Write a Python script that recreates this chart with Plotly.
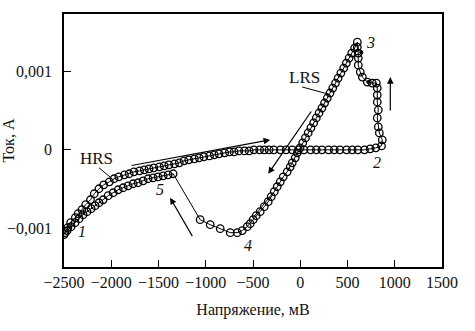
import plotly.graph_objects as go

# ---- measured I-V loop (voltage in mV, current in A), in drawing order ----
# branch 1 -> 2 (HRS, forward sweep)
v_hrs_fwd = [-2490, -2460, -2430, -2380, -2350, -2310, -2270, -2220, -2180, -2130,
             -2080, -2020, -1970, -1920, -1860, -1810, -1760, -1700, -1650, -1600,
             -1550, -1490, -1440, -1390, -1330, -1280, -1230, -1180, -1120, -1070,
             -1020, -960, -910, -860, -800, -750, -700, -650, -590, -540,
             -490, -430, -380, -330, -280, -210, -150, -85, -20, 40,
             110, 170, 230, 300, 360, 420, 490, 550, 610, 680,
             740, 800, 860]
i_hrs_fwd = [-1.060e-3, -0.996e-3, -0.932e-3, -0.868e-3, -0.817e-3, -0.766e-3, -0.702e-3, -0.639e-3, -0.562e-3, -0.498e-3,
             -0.447e-3, -0.409e-3, -0.370e-3, -0.345e-3, -0.319e-3, -0.306e-3, -0.281e-3, -0.268e-3, -0.255e-3, -0.243e-3,
             -0.230e-3, -0.217e-3, -0.204e-3, -0.192e-3, -0.179e-3, -0.166e-3, -0.140e-3, -0.128e-3, -0.115e-3, -0.102e-3,
             -0.089e-3, -0.077e-3, -0.064e-3, -0.051e-3, -0.038e-3, -0.026e-3, -0.026e-3, -0.013e-3, -0.013e-3, -0.013e-3,
             0.0, 0.0, 0.0, 0.0, 0.0, 0.0, 0.0, 0.0, 0.0, 0.0,
             0.0, 0.0, 0.0, 0.0, 0.0, 0.0, 0.0, 0.0, 0.0, 0.0,
             0.013e-3, 0.026e-3, 0.051e-3]
# 2 -> 3 (set)
v_set = [868, 837, 826, 815, 826, 815, 815, 815, 805, 762, 710, 657, 635, 614, 614, 614, 604, 604]
i_set = [0.128e-3, 0.217e-3, 0.294e-3, 0.409e-3, 0.511e-3, 0.613e-3, 0.702e-3, 0.792e-3, 0.856e-3,
         0.856e-3, 0.868e-3, 0.932e-3, 0.996e-3, 1.085e-3, 1.175e-3, 1.239e-3, 1.315e-3, 1.379e-3]
# 3 -> 4 (LRS)
v_lrs = [575, 545, 517, 488, 460, 430, 401, 373, 344, 315, 286, 257, 229, 199, 170, 142, 113, 84, 55, 26,
         -2, -32, -53, -85, -106, -138, -180, -212, -244, -275, -307, -339, -381, -424, -466, -498,
         -530, -561, -614, -667]
i_lrs = [1.303e-3, 1.239e-3, 1.175e-3, 1.111e-3, 1.047e-3, 0.983e-3, 0.919e-3, 0.856e-3, 0.792e-3, 0.728e-3,
         0.664e-3, 0.600e-3, 0.536e-3, 0.472e-3, 0.409e-3, 0.345e-3, 0.281e-3, 0.217e-3, 0.153e-3, 0.089e-3,
         0.026e-3, -0.038e-3, -0.102e-3, -0.166e-3, -0.217e-3, -0.281e-3, -0.345e-3, -0.409e-3, -0.472e-3, -0.536e-3,
         -0.600e-3, -0.664e-3, -0.728e-3, -0.792e-3, -0.843e-3, -0.894e-3, -0.945e-3, -0.983e-3, -1.034e-3, -1.060e-3]
# 4 -> 5 (reset)
v_reset = [-741, -847, -953, -1059, -1345]
i_reset = [-1.060e-3, -1.009e-3, -0.958e-3, -0.894e-3, -0.306e-3]
# 5 -> 1 (HRS, return)
v_hrs_back = [-1398, -1451, -1504, -1557, -1610, -1663, -1716, -1769, -1822, -1874, -1927, -1980,
              -2033, -2086, -2129, -2171, -2213, -2256, -2298, -2340, -2383, -2425, -2467, -2499]
i_hrs_back = [-0.319e-3, -0.332e-3, -0.345e-3, -0.358e-3, -0.370e-3, -0.396e-3, -0.421e-3, -0.434e-3,
              -0.460e-3, -0.485e-3, -0.511e-3, -0.549e-3, -0.587e-3, -0.639e-3, -0.677e-3, -0.715e-3,
              -0.753e-3, -0.792e-3, -0.830e-3, -0.881e-3, -0.932e-3, -0.983e-3, -1.034e-3, -1.085e-3]

voltage = v_hrs_fwd + v_set + v_lrs + v_reset + v_hrs_back
current = i_hrs_fwd + i_set + i_lrs + i_reset + i_hrs_back

filled_v = [646, 720]
filled_i = [1.251e-3, 0.868e-3]

x_ticks = [-2500, -2000, -1500, -1000, -500, 0, 500, 1000, 1500]
x_ticktext = ["\u22122500", "\u22122000", "\u22121500", "\u22121000", "\u2212500", "0", "500", "1000", "1500"]
y_ticks = [-0.001, 0, 0.001]
y_ticktext = ["\u22120,001", "0", "0,001"]

FONT = "Liberation Serif"

fig = go.Figure()
fig.add_trace(go.Scatter(
    x=voltage, y=current, mode="lines+markers",
    line=dict(color="black", width=1),
    marker=dict(symbol="circle-open", size=7.5, color="black", line=dict(width=1.3)),
    showlegend=False, hoverinfo="skip"))
fig.add_trace(go.Scatter(
    x=filled_v, y=filled_i, mode="markers",
    marker=dict(symbol="circle", size=4, color="black"),
    showlegend=False, hoverinfo="skip"))

# thin guide line next to LRS branch
fig.add_shape(type="line", x0=-498, y0=-0.000868, x1=-297, y1=-0.000562,
              line=dict(color="black", width=1))

def arrow(x_tail, y_tail, x_head, y_head):
    fig.add_annotation(x=x_head, y=y_head, ax=x_tail, ay=y_tail,
                       xref="x", yref="y", axref="x", ayref="y",
                       showarrow=True, arrowhead=2, arrowsize=1.1, arrowwidth=1.2,
                       arrowcolor="black", text="")

arrow(-1800, -0.000204, -318, 0.000128)
arrow(127, 0.000511, -339, -0.000306)
arrow(953, 0.000485, 953, 0.000932)
arrow(-1133, -0.001124, -1377, -0.000613)

def pointer(x0, y0, x1, y1):
    fig.add_shape(type="line", x0=x0, y0=y0, x1=x1, y1=y1, line=dict(color="black", width=1))

pointer(-2129, -0.00023, -1991, -0.00037)
pointer(21, 0.000805, 297, 0.000715)

def label(x, y, text, italic=False, size=17):
    t = f"<i>{text}</i>" if italic else text
    fig.add_annotation(x=x, y=y, xref="x", yref="y", text=t, showarrow=False,
                       font=dict(family=FONT, size=size, color="#111"))

label(-2160, -0.000115, "HRS")
label(42, 0.000932, "LRS")
label(-2309, -0.001047, "1", True, 16)
label(815, -0.000166, "2", True, 16)
label(741, 0.001379, "3", True, 16)
label(-551, -0.001226, "4", True, 16)
label(-1483, -0.000511, "5", True, 16)

fig.update_layout(
    width=475, height=331,
    margin=dict(l=64, r=33, t=14, b=64, autoexpand=False),
    paper_bgcolor="white", plot_bgcolor="white",
    font=dict(family=FONT, size=16, color="#111"),
    xaxis=dict(range=[-2500, 1500], tickvals=x_ticks, ticktext=x_ticktext,
               ticks="inside", ticklen=7, tickwidth=1.2, tickcolor="black",
               showline=True, linecolor="black", linewidth=1.5, mirror=True,
               showgrid=False, zeroline=False, automargin=False,
               title=dict(text="Напряжение, мВ", standoff=14, font=dict(size=16))),
    yaxis=dict(range=[-0.0015, 0.00174], tickvals=y_ticks, ticktext=y_ticktext,
               ticks="inside", ticklen=7, tickwidth=1.2, tickcolor="black",
               showline=True, linecolor="black", linewidth=1.5, mirror=True,
               showgrid=False, zeroline=False, ticklabelstandoff=7, automargin=False,
               title=dict(text="Ток, А", standoff=2, font=dict(size=16))),
)

fig.write_html("out.html", config={"displayModeBar": False},
               post_script="document.body.style.margin='0';")
